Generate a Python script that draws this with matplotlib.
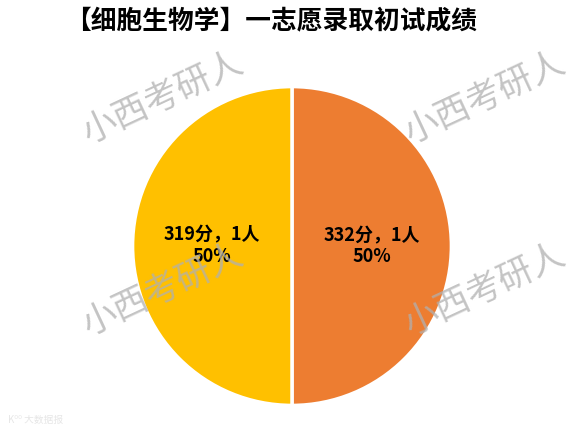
import matplotlib
matplotlib.use("Agg")
import matplotlib.pyplot as plt

plt.rcParams['font.family'] = ['Noto Sans CJK SC', 'DejaVu Sans']

title = "【细胞生物学】一志愿录取初试成绩"
scores = [332, 319]
counts = [1, 1]
colors = ["#ED7D31", "#FFC000"]
watermark = "小西考研人"

total = sum(counts)
labels = [f"{s}分，{c}人\n{round(c / total * 100)}%" for s, c in zip(scores, counts)]

fig = plt.figure(figsize=(5.78, 4.34), dpi=100)

# pie centred at about (292, 246) px, radius 161 px
cx, cy, r = 292, 246, 161
ax = fig.add_axes([(cx - r) / 578, (434 - cy - r) / 434, 2 * r / 578, 2 * r / 434])
wedges, texts = ax.pie(counts, colors=colors, labels=labels, labeldistance=0.5,
                       startangle=90, counterclock=False,
                       wedgeprops=dict(edgecolor="white", linewidth=2.5),
                       textprops=dict(fontsize=13, fontweight="bold", color="black",
                                      ha="center", va="center", linespacing=1.15))
ax.set_xlim(-1.01, 1.01)
ax.set_ylim(-1.01, 1.01)
ax.axis("off")

fig.text(271 / 578, 1 - 21 / 434, title, ha="center", va="center",
         fontsize=18.5, fontweight="heavy")

# watermarks
for (x, y) in [(163, 98), (485, 98), (163, 290), (485, 290)]:
    fig.text(x / 578, 1 - y / 434, watermark, ha="center", va="center",
             rotation=25, fontsize=25, color="#b0b0b0", alpha=0.75, zorder=10)

fig.text(8 / 578, 1 - 420 / 434, "K⁰⁰ 大数据报", ha="left", va="center",
         fontsize=7, color="#e6e6e6")

fig.savefig("out.png", dpi=100)
